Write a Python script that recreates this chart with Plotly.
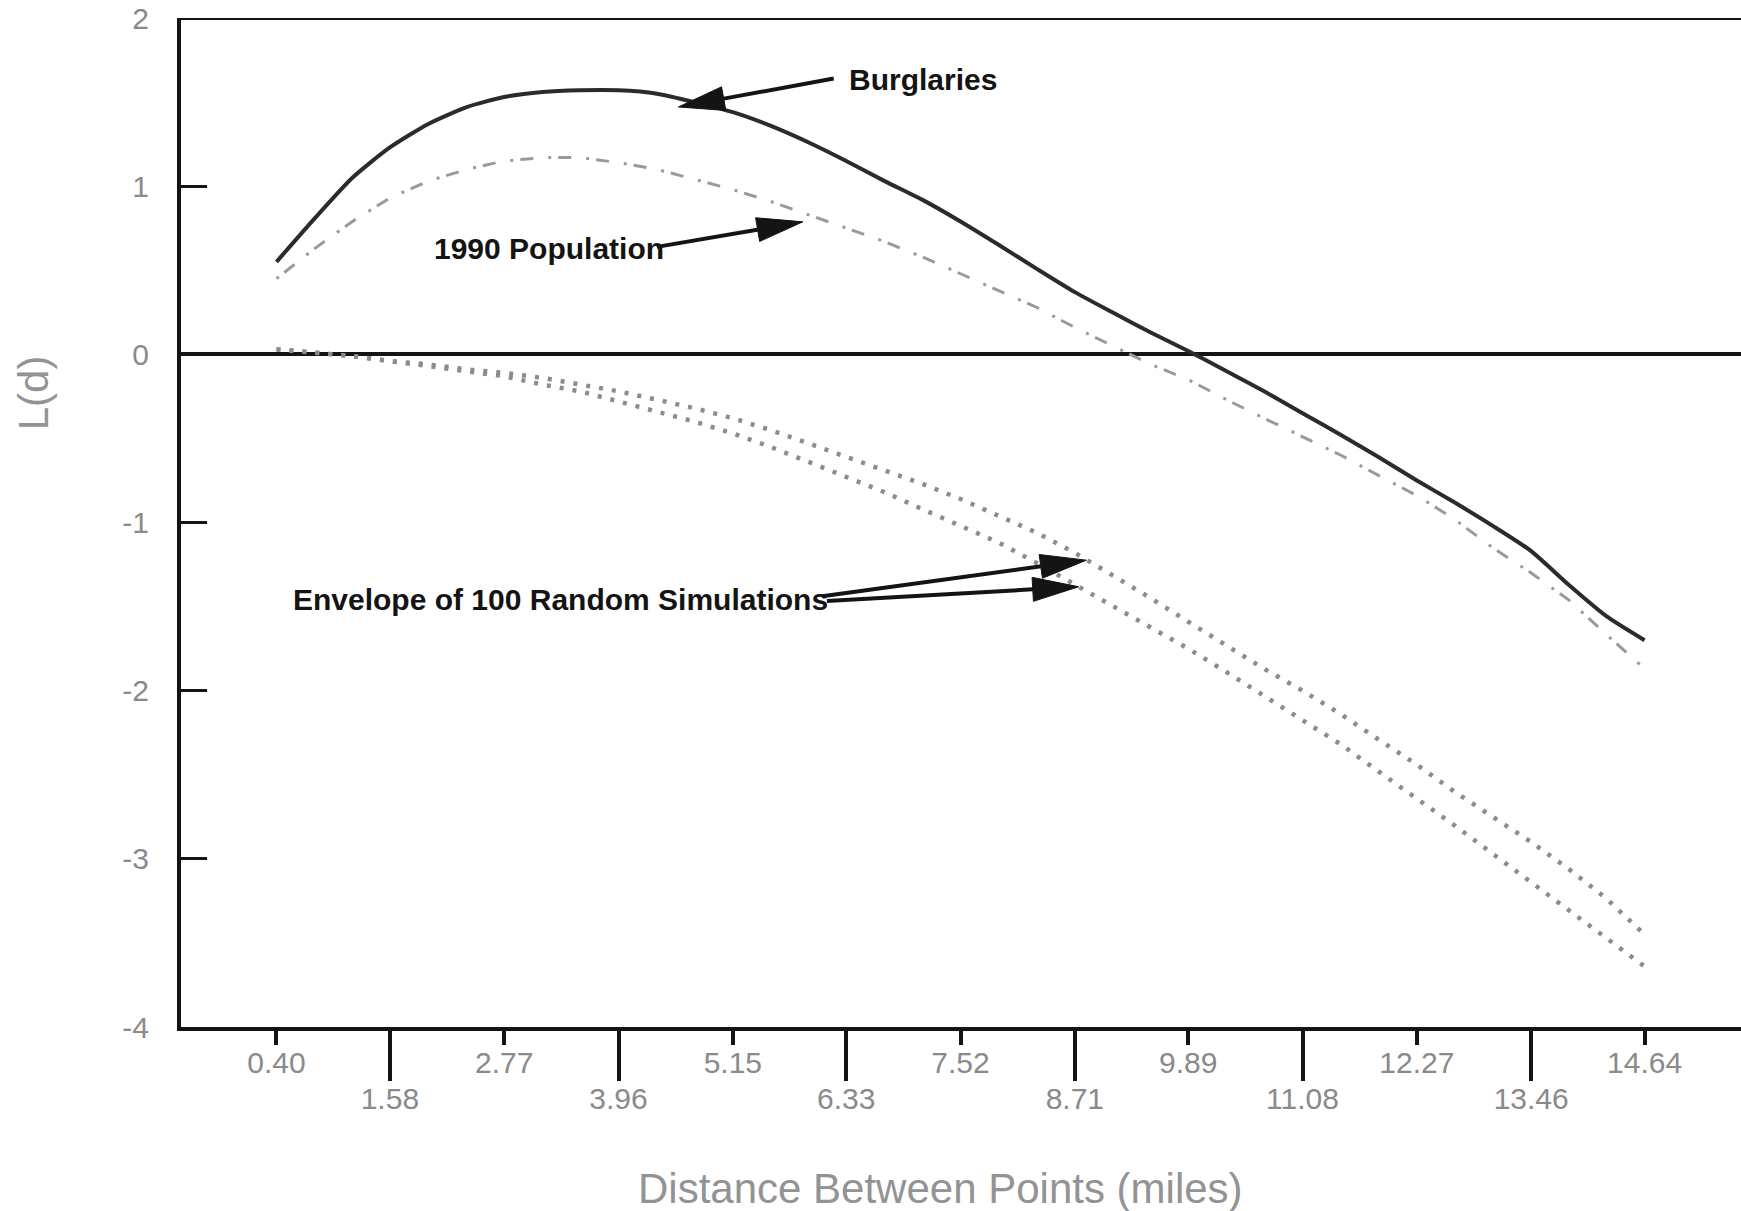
import math
import plotly.graph_objects as go

# Distance (miles) at which L(d) was evaluated
distance = [0.40, 0.80, 1.19, 1.58, 1.98, 2.38, 2.77, 3.17, 3.56, 3.96, 4.36, 4.75,
            5.15, 5.54, 5.94, 6.33, 6.73, 7.12, 7.52, 7.92, 8.31, 8.71, 9.10, 9.50,
            9.89, 10.29, 10.68, 11.08, 11.48, 11.87, 12.27, 12.66, 13.06, 13.46,
            13.85, 14.25, 14.64]

burglaries = [0.55, 0.81, 1.05, 1.23, 1.37, 1.47, 1.53, 1.56, 1.57, 1.57, 1.55, 1.50,
              1.44, 1.36, 1.26, 1.15, 1.03, 0.92, 0.79, 0.65, 0.51, 0.37, 0.25, 0.13,
              0.02, -0.10, -0.22, -0.35, -0.48, -0.61, -0.75, -0.88, -1.02, -1.17,
              -1.37, -1.56, -1.70]

population_1990 = [0.45, 0.63, 0.79, 0.93, 1.03, 1.10, 1.15, 1.17, 1.17, 1.14, 1.10, 1.04,
                   0.98, 0.91, 0.83, 0.75, 0.67, 0.58, 0.48, 0.38, 0.28, 0.16, 0.05, -0.06,
                   -0.15, -0.27, -0.38, -0.49, -0.60, -0.72, -0.84, -0.98, -1.15, -1.30,
                   -1.46, -1.67, -1.87]

envelope_upper = [0.03, 0.01, -0.01, -0.04, -0.06, -0.09, -0.11, -0.14, -0.18, -0.22, -0.27, -0.32,
                  -0.38, -0.45, -0.53, -0.61, -0.69, -0.77, -0.86, -0.96, -1.06, -1.18, -1.31, -1.45,
                  -1.59, -1.73, -1.87, -2.00, -2.14, -2.29, -2.44, -2.60, -2.75, -2.90,
                  -3.06, -3.24, -3.45]

envelope_lower = [0.03, 0.01, -0.01, -0.04, -0.07, -0.10, -0.13, -0.18, -0.22, -0.28, -0.34, -0.40,
                  -0.47, -0.55, -0.64, -0.73, -0.82, -0.92, -1.02, -1.12, -1.24, -1.37, -1.49, -1.62,
                  -1.75, -1.89, -2.03, -2.17, -2.32, -2.48, -2.64, -2.80, -2.97, -3.14,
                  -3.31, -3.48, -3.64]

# Tick labels along the distance axis (alternating rows)
ticks_upper_row = [0.40, 2.77, 5.15, 7.52, 9.89, 12.27, 14.64]
ticks_lower_row = [1.58, 3.96, 6.33, 8.71, 11.08, 13.46]
y_ticks = [-4, -3, -2, -1, 0, 1, 2]

W, H = 1741, 1211
M_L, M_R, M_T, M_B = 181, 0, 18, 184
X_RANGE = [-0.594, 15.644]
Y_RANGE = [-4, 2]
KX = (W - M_L - M_R) / (X_RANGE[1] - X_RANGE[0])
KY = (H - M_T - M_B) / (Y_RANGE[1] - Y_RANGE[0])

INK = "#141414"
TICK_GREY = "#8a8a8a"
FONT = "Liberation Sans, Arial, sans-serif"

fig = go.Figure()

fig.add_trace(go.Scatter(x=distance, y=envelope_upper, mode="lines",
                         line=dict(color="#8c8c8c", width=4.5, dash="4px,9px"),
                         hoverinfo="skip"))
fig.add_trace(go.Scatter(x=distance, y=envelope_lower, mode="lines",
                         line=dict(color="#8c8c8c", width=4.5, dash="4px,9px"),
                         hoverinfo="skip"))
fig.add_trace(go.Scatter(x=distance, y=population_1990, mode="lines",
                         line=dict(color="#9a9a9a", width=3, dash="3px,7px,13px,15px"),
                         hoverinfo="skip"))
fig.add_trace(go.Scatter(x=distance, y=burglaries, mode="lines",
                         line=dict(color="#2b2b2b", width=4, shape="spline", smoothing=0.6),
                         hoverinfo="skip"))
# carrier for the second row of distance labels
fig.add_trace(go.Scatter(x=[distance[0]], y=[burglaries[0]], xaxis="x2",
                         mode="markers", marker=dict(opacity=0), hoverinfo="skip"))


def to_px(x, y):
    return (x - X_RANGE[0]) * KX, -(y - Y_RANGE[0]) * KY


def to_data(px, py):
    return px / KX + X_RANGE[0], -py / KY + Y_RANGE[0]


def arrow_shapes(tail, tip, head_len=46, half_w=12, width=4):
    tx, ty = to_px(*tail)
    hx, hy = to_px(*tip)
    d = math.hypot(hx - tx, hy - ty)
    ux, uy = (hx - tx) / d, (hy - ty) / d
    nx, ny = -uy, ux
    bx, by = hx - ux * head_len, hy - uy * head_len
    b = to_data(bx + ux * 4, by + uy * 4)
    l = to_data(bx + nx * half_w, by + ny * half_w)
    r = to_data(bx - nx * half_w, by - ny * half_w)
    shaft = dict(type="line", xref="x", yref="y", x0=tail[0], y0=tail[1],
                 x1=b[0], y1=b[1], line=dict(color=INK, width=width))
    head = dict(type="path", xref="x", yref="y",
                path=f"M{tip[0]},{tip[1]} L{l[0]},{l[1]} L{r[0]},{r[1]} Z",
                fillcolor=INK, line=dict(color=INK, width=1))
    return [shaft, head]


shapes = [dict(type="line", xref="paper", yref="y", x0=0, x1=1, y0=2, y1=2,
               line=dict(color=INK, width=4))]
shapes += arrow_shapes((6.20, 1.640), (4.584, 1.471))
shapes += arrow_shapes((4.36, 0.639), (5.88, 0.788))
shapes += arrow_shapes((6.08, -1.438), (8.83, -1.224))
shapes += arrow_shapes((6.13, -1.467), (8.75, -1.382))

label_font = dict(family=FONT, size=30, color=INK)
annotations = [
    dict(x=6.34, y=1.636, xref="x", yref="y", text="<b>Burglaries</b>",
         showarrow=False, xanchor="left", yanchor="middle", font=label_font),
    dict(x=2.02, y=0.631, xref="x", yref="y", text="<b>1990 Population</b>",
         showarrow=False, xanchor="left", yanchor="middle", font=label_font),
    dict(x=0.55, y=-1.46, xref="x", yref="y", text="<b>Envelope of 100 Random Simulations</b>",
         showarrow=False, xanchor="left", yanchor="middle", font=label_font),
    dict(x=0.487, y=-0.1596, xref="paper", yref="paper", text="Distance Between Points (miles)",
         showarrow=False, xanchor="center", yanchor="middle",
         font=dict(family=FONT, size=42, color="#939393")),
    dict(x=-0.0949, y=0.629, xref="paper", yref="paper", text="L(d)", textangle=-90,
         showarrow=False, xanchor="center", yanchor="middle",
         font=dict(family=FONT, size=42, color="#939393")),
]

tick_font = dict(family=FONT, size=30, color=TICK_GREY)

fig.update_layout(
    width=W, height=H,
    margin=dict(l=M_L, r=M_R, t=M_T, b=M_B, pad=0),
    paper_bgcolor="white", plot_bgcolor="white",
    showlegend=False,
    shapes=shapes,
    annotations=annotations,
    xaxis=dict(range=X_RANGE, tickvals=ticks_lower_row,
               ticktext=[f"{v:.2f}" for v in ticks_lower_row],
               ticks="outside", ticklen=50, tickwidth=4, tickcolor=INK,
               ticklabelstandoff=-8,
               showline=True, linecolor=INK, linewidth=4,
               showgrid=False, zeroline=False, tickfont=tick_font),
    xaxis2=dict(range=X_RANGE, overlaying="x", anchor="y", side="bottom",
                tickvals=ticks_upper_row,
                ticktext=[f"{v:.2f}" for v in ticks_upper_row],
                ticks="outside", ticklen=17, tickwidth=4, tickcolor=INK,
                ticklabelstandoff=-8,
                showline=False, showgrid=False, zeroline=False, tickfont=tick_font),
    yaxis=dict(range=Y_RANGE, tickvals=y_ticks, ticktext=[str(v) for v in y_ticks],
               ticks="inside", ticklen=26, tickwidth=3, tickcolor=INK,
               ticklabelstandoff=22,
               showline=True, linecolor=INK, linewidth=4,
               showgrid=False, zeroline=True, zerolinecolor=INK, zerolinewidth=4,
               tickfont=tick_font),
)

fig.write_html("out.html")
